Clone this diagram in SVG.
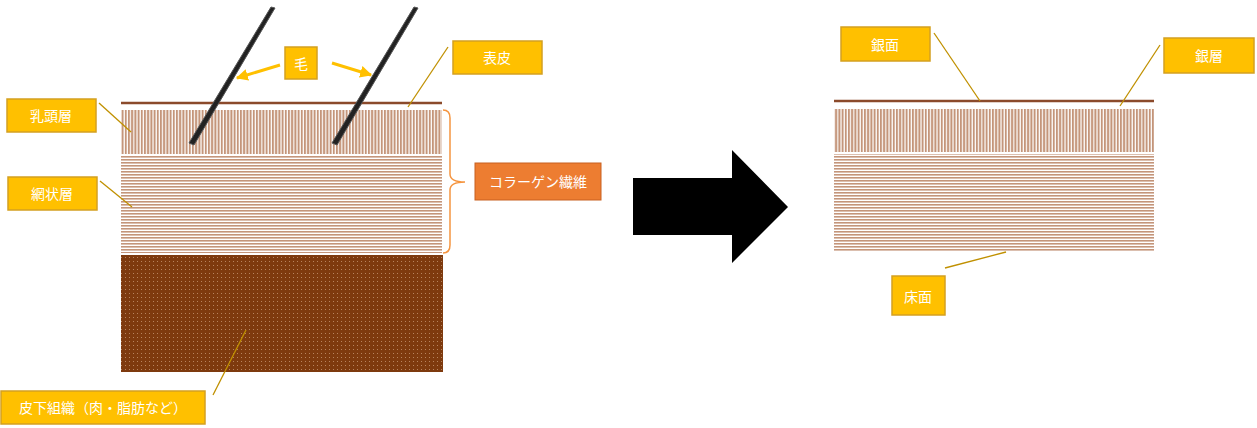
<svg xmlns="http://www.w3.org/2000/svg" width="1257" height="428" viewBox="0 0 1257 428">
<style>
.lbl{fill:#FFC000;stroke:#D4A020;stroke-width:1.5}
.t{fill:#fff;font-family:"Noto Sans CJK JP","Noto Sans",sans-serif;font-size:14px;text-anchor:middle;dominant-baseline:central}
.lead{stroke:#C09000;stroke-width:1.3;fill:none}
.epi{stroke:#8B4A2B;stroke-width:2.5}
</style>
<defs>
<pattern id="vs" width="3.2" height="10" patternUnits="userSpaceOnUse"><rect width="2" height="10" fill="#C4957A"/></pattern>
<pattern id="hs" width="10" height="3" patternUnits="userSpaceOnUse"><rect width="10" height="1.6" fill="#C4957A"/></pattern>
<pattern id="dots" width="4" height="4" patternUnits="userSpaceOnUse"><rect width="4" height="4" fill="#7E3A0E"/><rect x="1" y="1" width="1" height="1" fill="#B8845E"/></pattern>
<marker id="ah" viewBox="0 0 10 10" refX="9" refY="5" markerWidth="4" markerHeight="4" orient="auto"><path d="M0,0L10,5L0,10z" fill="#FFC000"/></marker>
</defs>
<g id="skin">
<line class="epi" x1="121" y1="103" x2="442" y2="103"/>
<rect x="121" y="110" width="321" height="44" fill="url(#vs)"/>
<rect x="121" y="156" width="321" height="97" fill="url(#hs)"/>
<rect x="121" y="255" width="322" height="117" fill="url(#dots)"/>
<polygon points="271,7 275,8 194,145 189,143" fill="#222" stroke="#555" stroke-width="1"/>
<polygon points="414,7 418,8 337,145 332,143" fill="#222" stroke="#555" stroke-width="1"/>
<path d="M443,110 q7,0 7,8 v56 q0,8 15,8 q-15,0 -15,8 v55 q0,8 -7,8" fill="none" stroke="#F59540" stroke-width="1.5"/>
</g>
<g id="leather">
<line class="epi" x1="834" y1="101" x2="1154" y2="101"/>
<rect x="834" y="109" width="320" height="43" fill="url(#vs)"/>
<rect x="834" y="154" width="320" height="97" fill="url(#hs)"/>
</g>
<g id="bigarrow"><polygon points="633,178 732,178 732,150 788,207 732,263 732,235 633,235" fill="#000"/></g>
<g id="connectors">
<line class="lead" x1="99" y1="103" x2="131" y2="132"/>
<line class="lead" x1="100" y1="181" x2="132" y2="207"/>
<line class="lead" x1="448" y1="47" x2="408" y2="107"/>
<line class="lead" x1="246" y1="330" x2="213" y2="395"/>
<line class="lead" x1="934" y1="33" x2="980" y2="101"/>
<line class="lead" x1="1160" y1="45" x2="1120" y2="106"/>
<line class="lead" x1="945" y1="268" x2="1006" y2="252"/>
<line x1="280" y1="65" x2="237" y2="78" stroke="#FFC000" stroke-width="3" marker-end="url(#ah)"/>
<line x1="332" y1="63" x2="371" y2="75" stroke="#FFC000" stroke-width="3" marker-end="url(#ah)"/>
</g>
<g id="n-ke"><rect class="lbl" x="285" y="47" width="32" height="32"/><text class="t" x="301" y="63">毛</text></g>
<g id="n-hyohi"><rect class="lbl" x="453" y="41" width="89" height="33"/><text class="t" x="497" y="57">表皮</text></g>
<g id="n-nyuto"><rect class="lbl" x="7" y="99" width="89" height="33"/><text class="t" x="51" y="115">乳頭層</text></g>
<g id="n-mojo"><rect class="lbl" x="8" y="177" width="89" height="33"/><text class="t" x="52" y="193">網状層</text></g>
<g id="n-collagen"><rect x="475" y="163" width="126" height="37" fill="#ED7D31" stroke="#C86020" stroke-width="1"/><text class="t" x="538" y="181">コラーゲン繊維</text></g>
<g id="n-hika"><rect class="lbl" x="1" y="391" width="204" height="33"/><text class="t" x="103" y="407">皮下組織（肉・脂肪など）</text></g>
<g id="n-ginmen"><rect class="lbl" x="841" y="27" width="89" height="34"/><text class="t" x="885" y="44">銀面</text></g>
<g id="n-ginso"><rect class="lbl" x="1164" y="38" width="90" height="35"/><text class="t" x="1209" y="55">銀層</text></g>
<g id="n-tokomen"><rect class="lbl" x="892" y="276" width="53" height="39"/><text class="t" x="918" y="296">床面</text></g>
</svg>
